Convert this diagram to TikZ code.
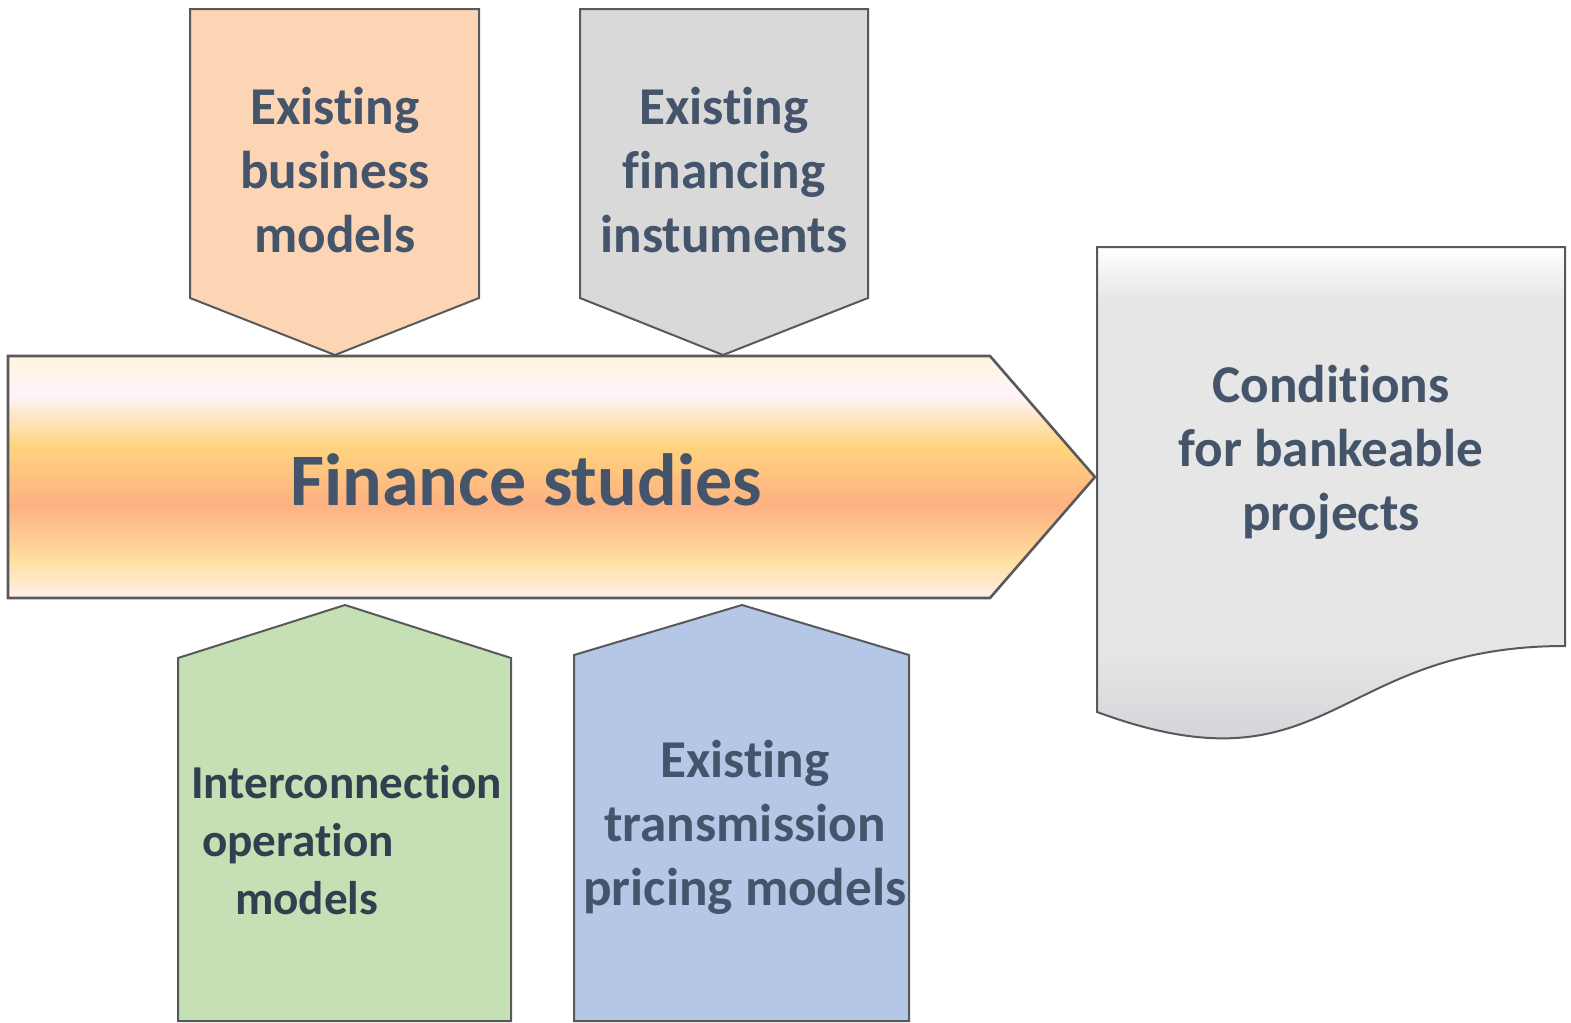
\documentclass[tikz,border=0pt]{standalone}
\usepackage{fontspec}
\setmainfont{Carlito}[Ligatures=NoCommon]
\definecolor{txt}{HTML}{44546A}
\definecolor{txtd}{HTML}{323F4F}
\definecolor{edge}{HTML}{595959}
\definecolor{peach}{HTML}{FCD5B5}
\definecolor{grayb}{HTML}{D9D9D9}
\definecolor{greenb}{HTML}{C5E0B4}
\definecolor{blueb}{HTML}{B4C7E7}
\definecolor{docgray}{HTML}{E6E6E6}
\definecolor{docdark}{HTML}{D3D4D9}
\definecolor{gA}{HTML}{FFF4DC}
\definecolor{gB}{HTML}{FEF4FB}
\definecolor{gC}{HTML}{FFD47E}
\definecolor{gD}{HTML}{FDB182}
\definecolor{gE}{HTML}{FFDFA0}
\definecolor{gF}{HTML}{FFF1F0}
\begin{document}
\begin{tikzpicture}[x=0.5pt,y=-0.5pt,
  shapeline/.style={draw=edge,line width=1pt,line join=miter},
  lbl/.style={text=txt,font=\bfseries\fontsize{26.6}{32}\selectfont,align=center,inner sep=0pt}]
\useasboundingbox (0,0) rectangle (1571,1023);

% top input boxes
\path[shapeline,fill=peach] (190,9) -- (479,9) -- (479,298) -- (335,355) -- (190,298) -- cycle;
\path[shapeline,fill=grayb] (580,9) -- (868,9) -- (868,298) -- (723,355) -- (580,298) -- cycle;

% bottom input boxes
\path[shapeline,fill=greenb] (178,658) -- (345,605) -- (511,658) -- (511,1021) -- (178,1021) -- cycle;
\path[shapeline,fill=blueb] (574,655) -- (742,605) -- (909,655) -- (909,1021) -- (574,1021) -- cycle;

% big arrow
\begin{scope}
  \clip (8,356) -- (990,356) -- (1095,477) -- (990,598) -- (8,598) -- cycle;
  \shade[top color=gA,bottom color=gB] (0,354) rectangle (1100,396);
  \shade[top color=gB,bottom color=gC] (0,395) rectangle (1100,446);
  \shade[top color=gC,bottom color=gD] (0,445) rectangle (1100,506);
  \shade[top color=gD,bottom color=gE] (0,505) rectangle (1100,561);
  \shade[top color=gE,bottom color=gF] (0,560) rectangle (1100,600);
\end{scope}
\path[shapeline,line width=1.3pt] (8,356) -- (990,356) -- (1095,477) -- (990,598) -- (8,598) -- cycle;

% document shape
\begin{scope}
  \clip (1097,247) -- (1565,247) -- (1565,646) .. controls (1331,646) and (1331,798) .. (1097,712) -- cycle;
  \fill[docgray] (1090,240) rectangle (1571,800);
  \shade[top color=white,bottom color=docgray] (1090,247) rectangle (1571,300);
  \shade[top color=docgray,bottom color=docdark] (1090,650) rectangle (1571,745);
\end{scope}
\path[shapeline] (1097,247) -- (1565,247) -- (1565,646) .. controls (1331,646) and (1331,798) .. (1097,712) -- cycle;

% labels
\node[lbl] (bm) at (335,170) {Existing\\business\\models};
\node[lbl] (fi) at (724,170) {Existing\\financing\\instuments};
\node[lbl,font=\bfseries\fontsize{37}{44}\selectfont] (fs) at (526,480) {Finance studies};
\node[lbl] (cb) at (1331,452) {Conditions\\for bankeable\\projects};
\node[lbl,text=txtd,align=left,font=\bfseries\fontsize{23.6}{29}\selectfont] (io) at (346.5,840) {Interconnection\\\hspace*{5.5pt}operation\\\hspace*{22pt}models};
\node[lbl] (tp) at (745,827) {Existing\\transmission\\pricing models};
\end{tikzpicture}
\end{document}
